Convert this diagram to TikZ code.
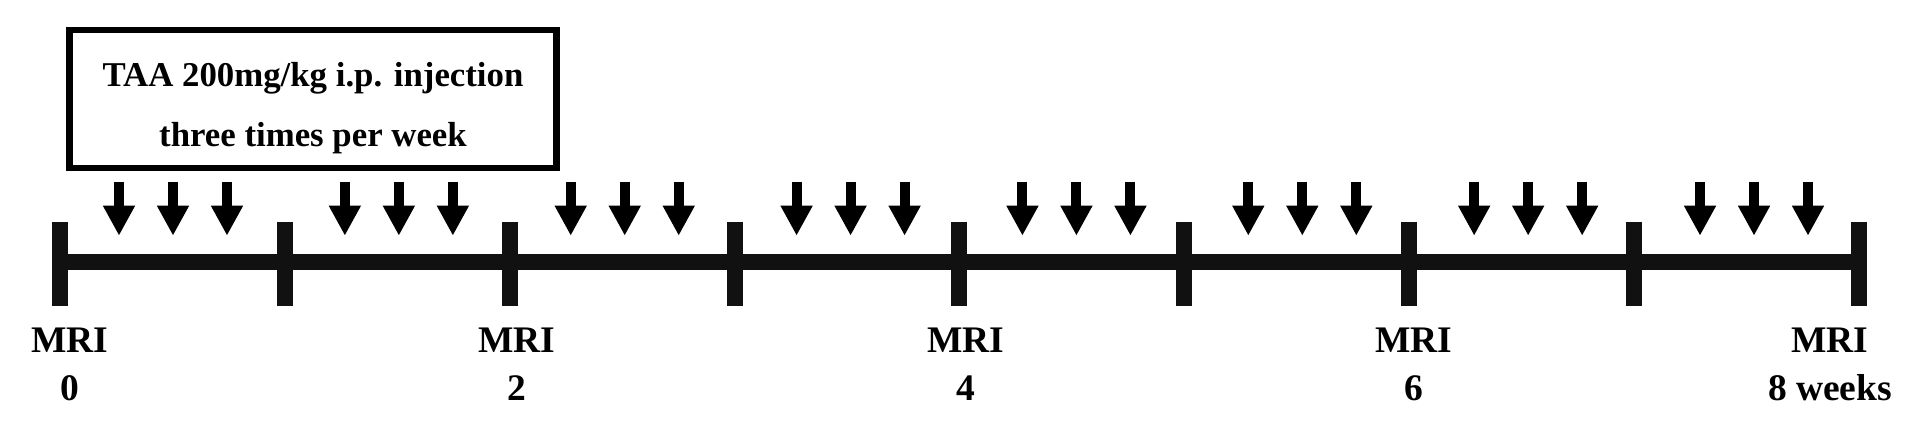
\documentclass[tikz,border=0pt]{standalone}
\usepackage{fontspec}
\setmainfont{Liberation Serif}
\usetikzlibrary{arrows.meta}
\definecolor{axisgray}{RGB}{17,17,17}
\tikzset{
  taabox/.style={rectangle,draw=black,line width=6.7pt,minimum width=487pt,minimum height=138pt,inner sep=0pt},
  taatext/.style={align=center,inner sep=0pt,font=\fontsize{34.8}{60}\selectfont\bfseries},
  axisline/.style={draw=axisgray,line width=16pt},
  weektick/.style={draw=axisgray,line width=16pt},
  dose/.style={-{Triangle[length=30pt,width=30pt]},line width=10pt},
  mrilabel/.style={align=center,inner sep=0pt,anchor=base,font=\fontsize{37.5}{48}\selectfont\bfseries}
}
\begin{document}
\begin{tikzpicture}[x=1pt,y=-1pt]
  \useasboundingbox (0,0) rectangle (1923,435);
  % injection box
  \node[taabox] (taa) at (312.8,99) {};
  \node[taatext,anchor=base] (taatxt) at (313,147) {TAA 200mg/kg i.p. injection\\three times per week};
  % time axis, one tick per week
  \foreach \w in {0,...,8}{
    \coordinate (t\w) at ({60+224.85*\w},262);
    \coordinate (tt\w) at ({60+224.85*\w},221.7);
    \coordinate (tb\w) at ({60+224.85*\w},306.5);
  }
  \draw[axisline] (t0) -- (t8);
  \foreach \w in {0,...,8}
    \draw[weektick] (tt\w) -- (tb\w);
  % three injections per week
  \foreach \g in {0,...,7}
    \foreach \j in {0,1,2}{
      \coordinate (d\g\j) at ({119+225.86*\g+54*\j},181.7);
      \coordinate (e\g\j) at ({119+225.86*\g+54*\j},235.7);
      \draw[dose] (d\g\j) -- (e\g\j);
    }
  % MRI time points
  \node[mrilabel] (mri0) at (70,401) {MRI\\0};
  \node[mrilabel] (mri2) at (517,401) {MRI\\2};
  \node[mrilabel] (mri4) at (966,401) {MRI\\4};
  \node[mrilabel] (mri6) at (1414,401) {MRI\\6};
  \node[mrilabel] (mri8) at (1830,401) {MRI\\8 weeks};
\end{tikzpicture}
\end{document}
